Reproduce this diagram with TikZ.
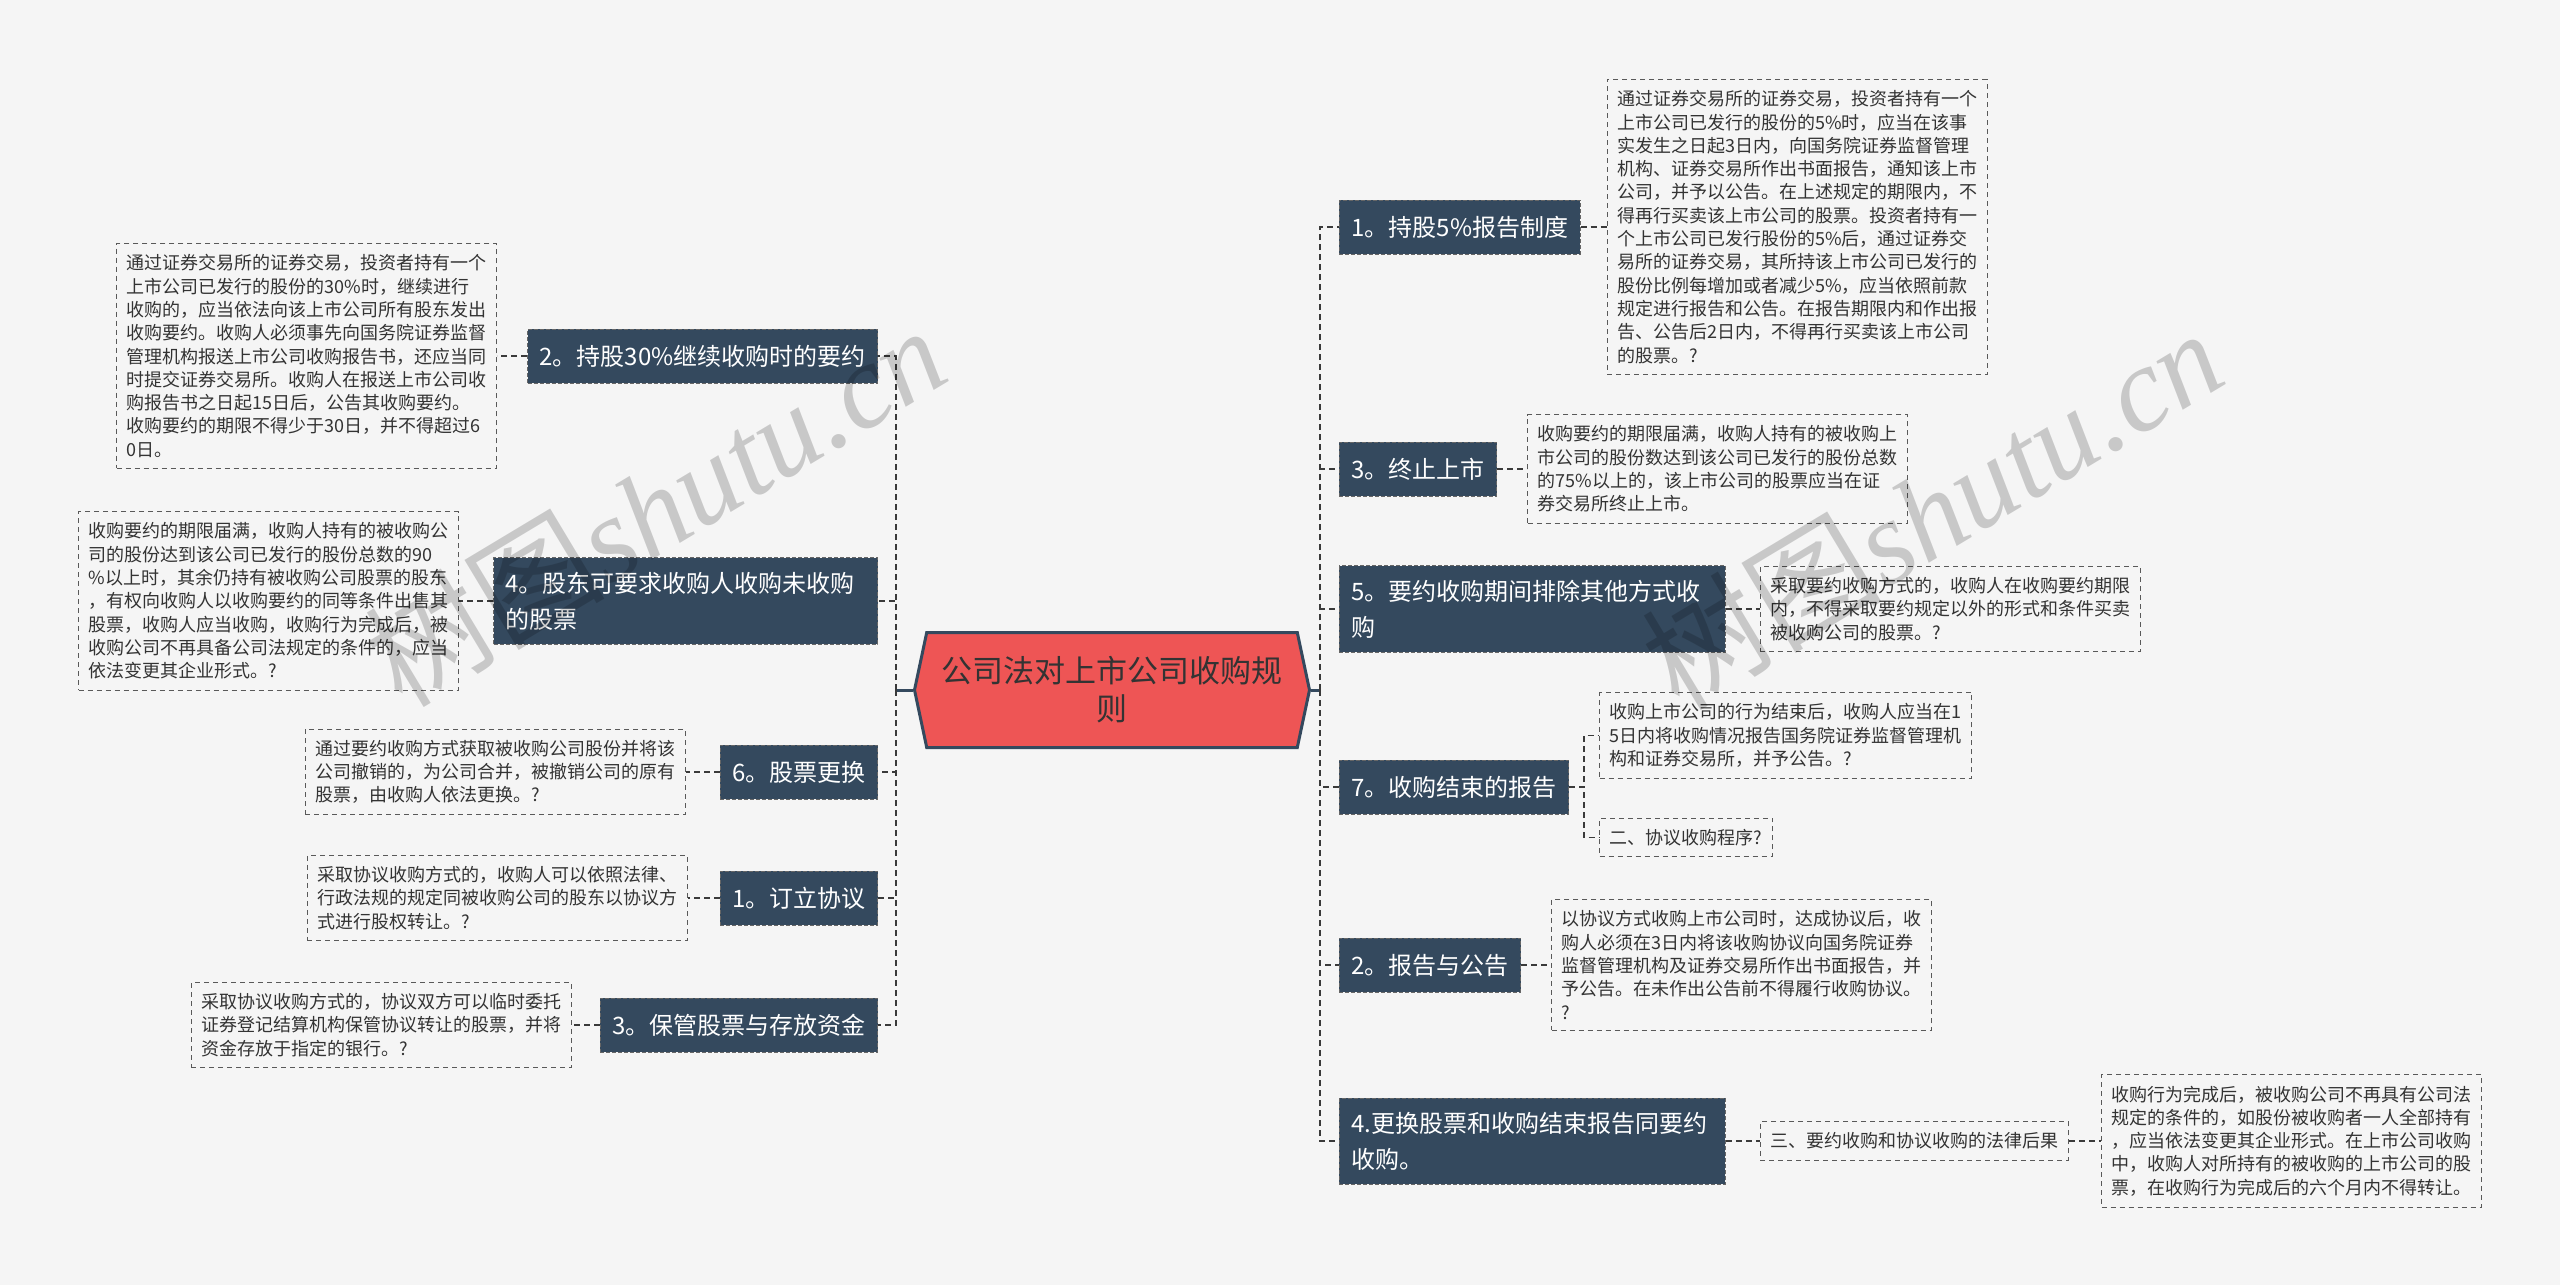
\documentclass[tikz,border=0pt]{standalone}
\usepackage{fontspec}
\setmainfont{Noto Sans CJK SC}
\newfontfamily\markfont{Liberation Serif}
\usetikzlibrary{shapes.symbols, positioning}

\definecolor{navy}{HTML}{34495E}
\definecolor{hubred}{HTML}{EE5555}
\definecolor{paper}{HTML}{F5F5F5}
\definecolor{edge}{HTML}{3A3A3A}

\begin{document}
\begin{tikzpicture}[
    x=0.5pt, y=-0.5pt,
    node distance=17pt,
    hubnode/.style={signal, signal to=west and east, signal pointer angle=156, draw=navy, line width=1.5pt, fill=hubred, text=black!80, minimum width=197.5pt, minimum height=57.5pt, align=center, font=\fontsize{15.5}{19}\selectfont},
    branchnode/.style={rectangle, draw=black!60, dash pattern=on 2pt off 1pt, fill=navy, text=white, minimum height=27pt, inner xsep=6pt, inner ysep=7pt, font=\fontsize{12}{18}\selectfont},
    infonode/.style={rectangle, draw=black!65, dash pattern=on 2.5pt off 2pt, line width=0.6pt, fill=paper, text=black!80, align=left, inner xsep=5pt, inner ysep=5.5pt, font=\fontsize{9}{11.65}\selectfont},
    link/.style={draw=edge, dash pattern=on 3pt off 2pt, line width=1pt},
    watermark/.style={rotate=31, text=black, text opacity=0.18, font=\fontsize{60}{60}\selectfont}
  ]

  \useasboundingbox (0,0) rectangle (2560,1285);
  \fill[paper] (0,0) rectangle (2560,1285);

  \node[hubnode] (hub) at (1112,690) {公司法对上市公司收购规\\则};

  % right branches
  \node[branchnode, anchor=west] (r1) at (1339,227) {1。持股5\%报告制度};
  \node[branchnode, anchor=west] (r3) at (1339,469) {3。终止上市};
  \node[branchnode, anchor=west, text width=181pt, align=left] (r5) at (1339,609) {5。要约收购期间排除其他方式收\\购};
  \node[branchnode, anchor=west] (r7) at (1339,787) {7。收购结束的报告};
  \node[branchnode, anchor=west] (r2) at (1339,965) {2。报告与公告};
  \node[branchnode, anchor=west, text width=181pt, align=left] (r4) at (1339,1141) {4.更换股票和收购结束报告同要约\\收购。};

  \node[infonode, right=13pt of r1] (r1info) {通过证券交易所的证券交易，投资者持有一个\\上市公司已发行的股份的5\%时，应当在该事\\实发生之日起3日内，向国务院证券监督管理\\机构、证券交易所作出书面报告，通知该上市\\公司，并予以公告。在上述规定的期限内，不\\得再行买卖该上市公司的股票。投资者持有一\\个上市公司已发行股份的5\%后，通过证券交\\易所的证券交易，其所持该上市公司已发行的\\股份比例每增加或者减少5\%，应当依照前款\\规定进行报告和公告。在报告期限内和作出报\\告、公告后2日内，不得再行买卖该上市公司\\的股票。?};
  \node[infonode, right=15pt of r3] (r3info) {收购要约的期限届满，收购人持有的被收购上\\市公司的股份数达到该公司已发行的股份总数\\的75\%以上的，该上市公司的股票应当在证\\券交易所终止上市。};
  \node[infonode, right=of r5] (r5info) {采取要约收购方式的，收购人在收购要约期限\\内，不得采取要约规定以外的形式和条件买卖\\被收购公司的股票。?};
  \node[infonode, anchor=west] (r7info) at ([xshift=15pt, yshift=25.75pt]r7.east) {收购上市公司的行为结束后，收购人应当在1\\5日内将收购情况报告国务院证券监督管理机\\构和证券交易所，并予公告。?};
  \node[infonode, anchor=west] (r7step) at ([xshift=15pt, yshift=-25.25pt]r7.east) {二、协议收购程序?};
  \node[infonode, right=15pt of r2] (r2info) {以协议方式收购上市公司时，达成协议后，收\\购人必须在3日内将该收购协议向国务院证券\\监督管理机构及证券交易所作出书面报告，并\\予公告。在未作出公告前不得履行收购协议。\\?};
  \node[infonode, right=of r4] (r4mid) {三、要约收购和协议收购的法律后果};
  \node[infonode, right=16pt of r4mid] (r4info) {收购行为完成后，被收购公司不再具有公司法\\规定的条件的，如股份被收购者一人全部持有\\，应当依法变更其企业形式。在上市公司收购\\中，收购人对所持有的被收购的上市公司的股\\票，在收购行为完成后的六个月内不得转让。};

  % left branches
  \node[branchnode, anchor=east] (l2) at (878,356) {2。持股30\%继续收购时的要约};
  \node[branchnode, anchor=east, text width=180pt, align=left] (l4) at (878,601) {4。股东可要求收购人收购未收购\\的股票};
  \node[branchnode, anchor=east] (l6) at (878,772) {6。股票更换};
  \node[branchnode, anchor=east] (l1) at (878,898) {1。订立协议};
  \node[branchnode, anchor=east] (l3) at (878,1025) {3。保管股票与存放资金};

  \node[infonode, left=15pt of l2] (l2info) {通过证券交易所的证券交易，投资者持有一个\\上市公司已发行的股份的30\%时，继续进行\\收购的，应当依法向该上市公司所有股东发出\\收购要约。收购人必须事先向国务院证券监督\\管理机构报送上市公司收购报告书，还应当同\\时提交证券交易所。收购人在报送上市公司收\\购报告书之日起15日后，公告其收购要约。\\收购要约的期限不得少于30日，并不得超过6\\0日。};
  \node[infonode, left=of l4] (l4info) {收购要约的期限届满，收购人持有的被收购公\\司的股份达到该公司已发行的股份总数的90\\\%以上时，其余仍持有被收购公司股票的股东\\，有权向收购人以收购要约的同等条件出售其\\股票，收购人应当收购，收购行为完成后，被\\收购公司不再具备公司法规定的条件的，应当\\依法变更其企业形式。?};
  \node[infonode, left=of l6] (l6info) {通过要约收购方式获取被收购公司股份并将该\\公司撤销的，为公司合并，被撤销公司的原有\\股票，由收购人依法更换。?};
  \node[infonode, left=16pt of l1] (l1info) {采取协议收购方式的，收购人可以依照法律、\\行政法规的规定同被收购公司的股东以协议方\\式进行股权转让。?};
  \node[infonode, left=14pt of l3] (l3info) {采取协议收购方式的，协议双方可以临时委托\\证券登记结算机构保管协议转让的股票，并将\\资金存放于指定的银行。?};

  % hub to spines
  \draw[navy, line width=1.5pt] (hub.east) -- ++(9,0);
  \draw[navy, line width=1.5pt] (hub.west) -- ++(-17,0);
  \foreach \b in {r1,r3,r5,r7,r2,r4}
    \draw[link] (hub.east) ++(9,0) |- (\b.west);
  \foreach \b in {l2,l4,l6,l1,l3}
    \draw[link] (hub.west) ++(-17,0) |- (\b.east);

  % branch to details
  \foreach \b in {r1,r3,r5,r2}
    \draw[link, line width=0.7pt] (\b.east) -- (\b info.west);
  \foreach \b in {l2,l4,l6,l1,l3}
    \draw[link, line width=0.7pt] (\b.west) -- (\b info.east);
  \draw[link, line width=0.7pt] (r7.east) -- ++(15,0) |- (r7info.west);
  \draw[link, line width=0.7pt] (r7.east) -- ++(15,0) |- (r7step.west);
  \draw[link, line width=0.7pt] (r4.east) -- (r4mid.west);
  \draw[link, line width=0.7pt] (r4mid.east) -- (r4info.west);

  % watermarks
  \node[watermark] (mark1) at (655,505) {树图{\markfont\itshape shutu.cn}};
  \node[watermark] (mark2) at (1932,508) {树图{\markfont\itshape shutu.cn}};

\end{tikzpicture}
\end{document}
